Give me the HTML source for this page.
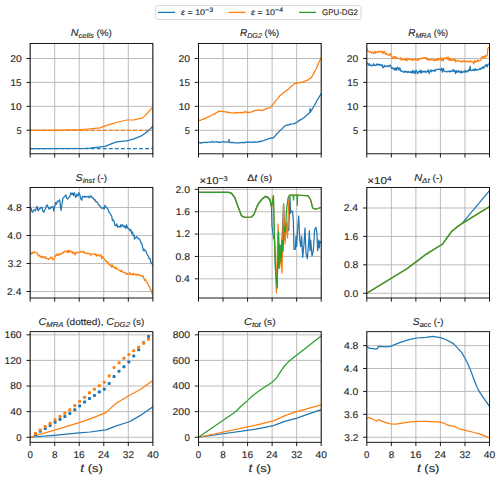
<!DOCTYPE html><html><head><meta charset="utf-8"><style>html,body{margin:0;padding:0;background:#fff;width:500px;height:480px;overflow:hidden}svg text{font-family:"Liberation Sans", sans-serif;fill:#262626;stroke:#262626;stroke-width:0.12;text-rendering:geometricPrecision}</style></head><body><svg width="500" height="480" viewBox="0 0 500 480" style="display:block">
<rect width="500" height="480" fill="#fff"/>
<g>
<line x1="30.15" y1="43.5" x2="30.15" y2="153.8" stroke="#b0b0b0" stroke-width="0.85"/>
<line x1="54.69" y1="43.5" x2="54.69" y2="153.8" stroke="#b0b0b0" stroke-width="0.85"/>
<line x1="79.23" y1="43.5" x2="79.23" y2="153.8" stroke="#b0b0b0" stroke-width="0.85"/>
<line x1="103.77" y1="43.5" x2="103.77" y2="153.8" stroke="#b0b0b0" stroke-width="0.85"/>
<line x1="128.31" y1="43.5" x2="128.31" y2="153.8" stroke="#b0b0b0" stroke-width="0.85"/>
<line x1="152.85" y1="43.5" x2="152.85" y2="153.8" stroke="#b0b0b0" stroke-width="0.85"/>
<line x1="30.15" y1="130.25" x2="152.85" y2="130.25" stroke="#b0b0b0" stroke-width="0.85"/>
<line x1="30.15" y1="106.33" x2="152.85" y2="106.33" stroke="#b0b0b0" stroke-width="0.85"/>
<line x1="30.15" y1="82.42" x2="152.85" y2="82.42" stroke="#b0b0b0" stroke-width="0.85"/>
<line x1="30.15" y1="58.5" x2="152.85" y2="58.5" stroke="#b0b0b0" stroke-width="0.85"/>
<svg x="30.15" y="43.5" width="122.7" height="110.3" viewBox="30.15 43.5 122.7 110.3" overflow="hidden">
<line x1="30.15" y1="148.7" x2="153" y2="148.7" stroke="#1f77b4" stroke-width="1.3" stroke-dasharray="3.95,2.1"/>
<line x1="30.15" y1="130.3" x2="153" y2="130.3" stroke="#ff7f0e" stroke-width="1.3" stroke-dasharray="3.95,2.1"/>
<polyline points="30.15,148.6 85,148.4 90,148.2 98,147.2 105,146.3 110,144.3 116.4,141.9 126.8,140.8 134,138.8 141.4,135.9 148.7,130.4 152.85,126.2" fill="none" stroke="#1f77b4" stroke-width="1.25" stroke-linejoin="round" stroke-linecap="butt" />
<polyline points="30.15,130.3 60,130.2 80,129.7 88,129 100,127.8 103,126.6 106,125.6 110,124.3 116.4,122.5 126.8,120 134.1,119.8 142.5,117.9 147,113.5 151.8,108.2 152.85,107.3" fill="none" stroke="#ff7f0e" stroke-width="1.25" stroke-linejoin="round" stroke-linecap="butt" />
</svg>
<rect x="30.15" y="43.5" width="122.7" height="110.3" fill="none" stroke="#000" stroke-width="0.9"/>
<line x1="30.15" y1="153.8" x2="30.15" y2="157.5" stroke="#000" stroke-width="0.9"/>
<line x1="54.69" y1="153.8" x2="54.69" y2="157.5" stroke="#000" stroke-width="0.9"/>
<line x1="79.23" y1="153.8" x2="79.23" y2="157.5" stroke="#000" stroke-width="0.9"/>
<line x1="103.77" y1="153.8" x2="103.77" y2="157.5" stroke="#000" stroke-width="0.9"/>
<line x1="128.31" y1="153.8" x2="128.31" y2="157.5" stroke="#000" stroke-width="0.9"/>
<line x1="152.85" y1="153.8" x2="152.85" y2="157.5" stroke="#000" stroke-width="0.9"/>
<line x1="26.45" y1="130.25" x2="30.15" y2="130.25" stroke="#000" stroke-width="0.9"/>
<line x1="26.45" y1="106.33" x2="30.15" y2="106.33" stroke="#000" stroke-width="0.9"/>
<line x1="26.45" y1="82.42" x2="30.15" y2="82.42" stroke="#000" stroke-width="0.9"/>
<line x1="26.45" y1="58.5" x2="30.15" y2="58.5" stroke="#000" stroke-width="0.9"/>
</g>
<g>
<line x1="198.5" y1="43.5" x2="198.5" y2="153.8" stroke="#b0b0b0" stroke-width="0.85"/>
<line x1="223.04" y1="43.5" x2="223.04" y2="153.8" stroke="#b0b0b0" stroke-width="0.85"/>
<line x1="247.58" y1="43.5" x2="247.58" y2="153.8" stroke="#b0b0b0" stroke-width="0.85"/>
<line x1="272.12" y1="43.5" x2="272.12" y2="153.8" stroke="#b0b0b0" stroke-width="0.85"/>
<line x1="296.66" y1="43.5" x2="296.66" y2="153.8" stroke="#b0b0b0" stroke-width="0.85"/>
<line x1="321.2" y1="43.5" x2="321.2" y2="153.8" stroke="#b0b0b0" stroke-width="0.85"/>
<line x1="198.5" y1="130.25" x2="321.2" y2="130.25" stroke="#b0b0b0" stroke-width="0.85"/>
<line x1="198.5" y1="106.33" x2="321.2" y2="106.33" stroke="#b0b0b0" stroke-width="0.85"/>
<line x1="198.5" y1="82.42" x2="321.2" y2="82.42" stroke="#b0b0b0" stroke-width="0.85"/>
<line x1="198.5" y1="58.5" x2="321.2" y2="58.5" stroke="#b0b0b0" stroke-width="0.85"/>
<svg x="198.5" y="43.5" width="122.7" height="110.3" viewBox="198.5 43.5 122.7 110.3" overflow="hidden">
<polyline points="198.5,142.9 199.52,142.49 200.55,143.14 201.57,142.67 202.59,142.82 203.62,142.27 204.64,142.49 205.66,142.15 206.68,142.72 207.71,142.22 208.73,142.24 209.75,142 210.78,142.31 211.8,142 212.5,141.2 213,142 214.04,142 215.09,142.02 216.13,141.6 217.18,142.14 218.22,141.92 219.27,142.63 220.31,141.95 221.36,142.04 222.4,142 223.45,141.68 224.5,142.05 225.55,141.76 226.6,142.1 227.65,141.94 228.7,142 229,139.3 229.5,142.3 230.52,142.67 231.53,142.32 232.55,142.63 233.57,142.42 234.58,142.92 235.6,142.9 236.59,142.84 237.57,143 238.56,142.71 239.55,143.01 240.54,142.67 241.53,142.69 242.51,142.42 243.5,142.84 244.49,142.4 245.47,142.59 246.46,141.9 247.45,142.4 248.44,142.16 249.43,142.45 250.41,142.17 251.4,142.2 252.32,142.59 253.24,141.91 254.16,142.25 255.08,141.93 256,142.1 256.97,142.29 257.94,141.67 258.91,141.96 259.89,141.1 260.86,141.66 261.83,140.81 262.8,141 263.77,140.63 264.74,140.04 265.71,139.88 266.69,139.38 267.66,139.33 268.63,138.53 269.6,138.3 270.62,138.42 271.65,137.84 272.68,138.15 273.7,137.6 274.73,136.23 275.75,135.45 276.77,133.62 277.8,132.9 278.74,132.01 279.68,130.81 280.61,130.2 281.55,129.19 282.49,128.34 283.43,127.03 284.36,126.62 285.3,125.6 286.36,125.02 287.41,125.18 288.47,124.79 289.53,124.79 290.59,123.76 291.64,124.24 292.7,124 293.73,123.56 294.75,123.52 295.77,122.68 296.8,122.4 297.77,121.9 298.74,120.47 299.71,120.53 300.69,119.57 301.66,119.32 302.63,118.5 303.6,117.9 304.62,117.31 305.63,116.04 306.65,115.16 307.67,114.13 308.68,113.79 309.7,112.4 310.2,108.5 310.6,112 311.56,109.99 312.52,108.92 313.48,106.84 314.44,105.57 315.4,103.33 316.35,102.01 317.31,99.73 318.27,98.73 319.23,96.71 320.19,95.26 321.15,93.5" fill="none" stroke="#1f77b4" stroke-width="1.25" stroke-linejoin="round" stroke-linecap="butt" />
<polyline points="198.5,121.1 199.46,120.08 200.42,120.46 201.38,119.77 202.33,119.51 203.29,118.84 204.25,119.02 205.21,118.13 206.17,118.03 207.12,117.14 208.08,117.24 209.04,116.47 210,116.2 211.01,115.72 212.02,114.85 213.03,114.64 214.04,113.83 215.06,114.12 216.07,112.55 217.08,112.41 218.09,111.56 219.1,111.2 220.02,111.35 220.94,111.3 221.86,111.45 222.78,111.3 223.7,111.6 224.73,111.83 225.77,111.55 226.8,112.51 227.83,111.98 228.87,112.54 229.9,112.66 230.93,112.9 231.97,112.96 233,113.2 234.02,113.23 235.03,112.3 236.05,112.96 237.06,112.72 238.08,112.85 239.09,112.23 240.11,112.79 241.12,112.34 242.14,112.87 243.15,112.16 244.17,112.56 245.18,111.55 246.2,111.9 247.17,112.64 248.15,112.05 249.12,112.39 250.1,112.5 251.05,111.99 252,111.5 253,111.68 254,110.72 255,110.88 256,109.97 257,110.37 258,110.1 259.13,109.8 260.27,110.5 261.4,110.7 262.42,109.99 263.45,110.38 264.48,109.34 265.5,109.37 266.52,108.29 267.55,108.69 268.58,108.03 269.6,107.7 270.6,107.3 271.6,106.3 272.73,104.69 273.87,103.4 275,101.6 275.92,100.48 276.83,99.62 277.75,98.23 278.67,97.45 279.58,96.07 280.5,95.2 281.5,94.55 282.5,93.26 283.5,92.99 284.5,91.8 285.5,91.35 286.5,90.37 287.5,89.8 288.54,89.18 289.57,87.93 290.61,87.27 291.64,85.59 292.68,85.35 293.71,84.33 294.75,83.5 295.79,83.36 296.84,82.89 297.88,83.24 298.93,82.51 299.97,82.53 301.01,82.22 302.06,82.1 303.1,81.8 304.14,81.28 305.18,81.17 306.21,80.52 307.25,80.2 308.29,80.08 309.32,78.65 310.36,78.45 311.4,77.6 312.45,75.53 313.5,73.86 314.55,71.62 315.6,69.8 316.53,68.27 317.45,65.33 318.38,63.84 319.3,61.36 320.22,59.6 321.15,57.5" fill="none" stroke="#ff7f0e" stroke-width="1.25" stroke-linejoin="round" stroke-linecap="butt" />
</svg>
<rect x="198.5" y="43.5" width="122.7" height="110.3" fill="none" stroke="#000" stroke-width="0.9"/>
<line x1="198.5" y1="153.8" x2="198.5" y2="157.5" stroke="#000" stroke-width="0.9"/>
<line x1="223.04" y1="153.8" x2="223.04" y2="157.5" stroke="#000" stroke-width="0.9"/>
<line x1="247.58" y1="153.8" x2="247.58" y2="157.5" stroke="#000" stroke-width="0.9"/>
<line x1="272.12" y1="153.8" x2="272.12" y2="157.5" stroke="#000" stroke-width="0.9"/>
<line x1="296.66" y1="153.8" x2="296.66" y2="157.5" stroke="#000" stroke-width="0.9"/>
<line x1="321.2" y1="153.8" x2="321.2" y2="157.5" stroke="#000" stroke-width="0.9"/>
<line x1="194.8" y1="130.25" x2="198.5" y2="130.25" stroke="#000" stroke-width="0.9"/>
<line x1="194.8" y1="106.33" x2="198.5" y2="106.33" stroke="#000" stroke-width="0.9"/>
<line x1="194.8" y1="82.42" x2="198.5" y2="82.42" stroke="#000" stroke-width="0.9"/>
<line x1="194.8" y1="58.5" x2="198.5" y2="58.5" stroke="#000" stroke-width="0.9"/>
</g>
<g>
<line x1="366.8" y1="43.5" x2="366.8" y2="153.8" stroke="#b0b0b0" stroke-width="0.85"/>
<line x1="391.34" y1="43.5" x2="391.34" y2="153.8" stroke="#b0b0b0" stroke-width="0.85"/>
<line x1="415.88" y1="43.5" x2="415.88" y2="153.8" stroke="#b0b0b0" stroke-width="0.85"/>
<line x1="440.42" y1="43.5" x2="440.42" y2="153.8" stroke="#b0b0b0" stroke-width="0.85"/>
<line x1="464.96" y1="43.5" x2="464.96" y2="153.8" stroke="#b0b0b0" stroke-width="0.85"/>
<line x1="489.5" y1="43.5" x2="489.5" y2="153.8" stroke="#b0b0b0" stroke-width="0.85"/>
<line x1="366.8" y1="130.25" x2="489.5" y2="130.25" stroke="#b0b0b0" stroke-width="0.85"/>
<line x1="366.8" y1="106.33" x2="489.5" y2="106.33" stroke="#b0b0b0" stroke-width="0.85"/>
<line x1="366.8" y1="82.42" x2="489.5" y2="82.42" stroke="#b0b0b0" stroke-width="0.85"/>
<line x1="366.8" y1="58.5" x2="489.5" y2="58.5" stroke="#b0b0b0" stroke-width="0.85"/>
<svg x="366.8" y="43.5" width="122.7" height="110.3" viewBox="366.8 43.5 122.7 110.3" overflow="hidden">
<polyline points="366.8,63.1 367.65,63.45 368.5,65.09 369.35,63.56 370.2,65.73 371.05,65.03 371.9,65.7 372.69,65.81 373.48,63.73 374.27,65.45 375.06,65.14 375.85,65.71 376.64,63.91 377.43,64.82 378.22,64.13 379.01,65.41 379.8,64.4 380.6,64.59 381.4,65.83 382.2,64.76 383,67.84 383.8,67 384.62,65.3 385.45,66.74 386.27,66.13 387.1,66.34 387.93,65.75 388.75,66.78 389.57,65.27 390.4,65.1 391.05,66.96 391.7,68.4 392.52,67.72 393.35,69.16 394.18,68.04 395,70.21 395.82,67.95 396.65,70.38 397.48,67.12 398.3,68.4 399.1,70.05 399.9,67.74 400.7,71.1 401.5,70.74 402.3,71.7 403.09,72.04 403.88,71.41 404.67,72.35 405.46,71 406.25,72.21 407.04,71.53 407.83,72.66 408.62,71.29 409.41,72.28 410.2,72.3 411.02,71.52 411.85,73.11 412.68,70.39 413.5,72.98 414.32,71.07 415.15,73.73 415.98,70.06 416.8,71.7 417.62,73.85 418.45,71.41 419.28,72.12 420.1,70.13 420.93,73.39 421.75,70.62 422.57,72.23 423.4,71.41 424.23,72.14 425.05,70.94 425.88,72.52 426.7,71.4 427.52,71.77 428.35,69.78 429.18,73.58 430,71.4 430.84,69.81 431.67,71.82 432.51,70.31 433.35,70.8 434.18,69.89 435.02,71.57 435.85,69.68 436.69,69.85 437.53,69.23 438.36,69.4 439.2,69 440.02,69.18 440.85,70.47 441.68,68.16 442.5,72.07 443.32,68.29 444.15,71.14 444.98,71.23 445.8,71.7 446.62,71.95 447.45,71.34 448.27,71.57 449.1,71.05 449.93,72.13 450.75,70.77 451.57,71.42 452.4,71 453.22,69.35 454.03,71.68 454.85,70.41 455.66,73.49 456.48,70.8 457.29,72.13 458.11,70.64 458.92,72.07 459.74,71.15 460.55,72.95 461.37,70.93 462.18,72.66 463,72.3 463.81,71.08 464.62,72.24 465.44,70.32 466.25,72 467.06,71.12 467.88,71.71 468.69,69.64 469.5,70.5 470.1,66.4 470.7,70.5 471.51,70.57 472.32,70.21 473.13,70.3 473.94,69.16 474.75,70.7 475.56,68.79 476.37,70.1 477.18,69.65 477.99,70.01 478.8,69.7 479.64,68.52 480.47,69.46 481.31,67.89 482.15,68.53 482.98,66.9 483.82,68.23 484.65,66.01 485.49,65.89 486.33,64.33 487.16,66.95 488,64.4 488.75,63.94 489.5,63.5" fill="none" stroke="#1f77b4" stroke-width="1.25" stroke-linejoin="round" stroke-linecap="butt" />
<polyline points="366.8,48.6 368,51.2 368.87,51.5 369.73,52.29 370.6,51.79 371.47,52.85 372.33,52.03 373.2,53.2 374,53.31 374.8,51.27 375.6,53.22 376.4,52.1 377.2,51.9 378.02,52.5 378.85,51.12 379.68,51.95 380.5,51.55 381.32,52.09 382.15,51.22 382.98,53.65 383.8,51.6 384.57,51.42 385.33,54.24 386.1,53.22 386.87,54.56 387.63,54.14 388.4,55.2 389.4,55.38 390.4,53.2 391.05,54.65 391.7,56.5 392.52,58.51 393.35,56.72 394.18,57.51 395,56.44 395.82,58.58 396.65,57.44 397.48,58.27 398.3,58.5 399.1,58.38 399.9,59.08 400.7,57.63 401.5,60.26 402.3,59.8 403.09,59.04 403.88,59.96 404.67,58.72 405.46,60.32 406.25,58.36 407.04,60.8 407.83,58.66 408.62,59.61 409.41,58.75 410.2,59.5 411.02,60.09 411.85,59.17 412.68,60.26 413.5,59.55 414.32,59.93 415.15,58.52 415.98,60.12 416.8,59.8 417.59,59.39 418.38,60.49 419.17,58.39 419.96,59.15 420.75,58.21 421.54,58.61 422.33,57.88 423.12,58.52 423.91,57.51 424.7,57.8 425.46,58.62 426.21,57.45 426.97,59.83 427.73,58.45 428.49,60.27 429.24,59.17 430,59.8 430.84,60.01 431.67,59.14 432.51,59.96 433.35,59.57 434.18,60.9 435.02,59.57 435.85,60.41 436.69,59.14 437.53,60.45 438.36,58.19 439.2,59.5 440.02,59.74 440.85,57.47 441.68,60.49 442.5,58.78 443.32,61.15 444.15,58.01 444.98,58.71 445.8,58.5 446.62,57.14 447.45,59.15 448.28,57.16 449.1,60.3 449.93,58.11 450.75,60.62 451.57,59.48 452.4,60.36 453.23,59.5 454.05,60.29 454.88,58.59 455.7,62.01 456.52,60.55 457.35,60.88 458.18,60.41 459,61.1 459.82,61.3 460.65,61.01 461.48,62.07 462.3,61.17 463.12,61.71 463.95,60.42 464.77,61.51 465.6,61.37 466.43,61.8 467.25,61.02 468.07,61.77 468.9,61.4 469.72,62.13 470.55,60.7 471.38,62.02 472.2,61.8 472.99,61.65 473.78,63.94 474.57,60.62 475.36,62.05 476.15,61.01 476.94,61.93 477.73,59.87 478.52,60.84 479.31,60.58 480.1,60.5 480.75,60.07 481.4,57.8 482.16,56.54 482.91,57.33 483.67,56.75 484.43,58.32 485.19,55.57 485.94,56.67 486.7,55.4 487.3,55 487.8,48.5 488.65,47.47 489.5,47.8" fill="none" stroke="#ff7f0e" stroke-width="1.25" stroke-linejoin="round" stroke-linecap="butt" />
</svg>
<rect x="366.8" y="43.5" width="122.7" height="110.3" fill="none" stroke="#000" stroke-width="0.9"/>
<line x1="366.8" y1="153.8" x2="366.8" y2="157.5" stroke="#000" stroke-width="0.9"/>
<line x1="391.34" y1="153.8" x2="391.34" y2="157.5" stroke="#000" stroke-width="0.9"/>
<line x1="415.88" y1="153.8" x2="415.88" y2="157.5" stroke="#000" stroke-width="0.9"/>
<line x1="440.42" y1="153.8" x2="440.42" y2="157.5" stroke="#000" stroke-width="0.9"/>
<line x1="464.96" y1="153.8" x2="464.96" y2="157.5" stroke="#000" stroke-width="0.9"/>
<line x1="489.5" y1="153.8" x2="489.5" y2="157.5" stroke="#000" stroke-width="0.9"/>
<line x1="363.1" y1="130.25" x2="366.8" y2="130.25" stroke="#000" stroke-width="0.9"/>
<line x1="363.1" y1="106.33" x2="366.8" y2="106.33" stroke="#000" stroke-width="0.9"/>
<line x1="363.1" y1="82.42" x2="366.8" y2="82.42" stroke="#000" stroke-width="0.9"/>
<line x1="363.1" y1="58.5" x2="366.8" y2="58.5" stroke="#000" stroke-width="0.9"/>
</g>
<g>
<line x1="30.15" y1="187.5" x2="30.15" y2="298" stroke="#b0b0b0" stroke-width="0.85"/>
<line x1="54.69" y1="187.5" x2="54.69" y2="298" stroke="#b0b0b0" stroke-width="0.85"/>
<line x1="79.23" y1="187.5" x2="79.23" y2="298" stroke="#b0b0b0" stroke-width="0.85"/>
<line x1="103.77" y1="187.5" x2="103.77" y2="298" stroke="#b0b0b0" stroke-width="0.85"/>
<line x1="128.31" y1="187.5" x2="128.31" y2="298" stroke="#b0b0b0" stroke-width="0.85"/>
<line x1="152.85" y1="187.5" x2="152.85" y2="298" stroke="#b0b0b0" stroke-width="0.85"/>
<line x1="30.15" y1="291.5" x2="152.85" y2="291.5" stroke="#b0b0b0" stroke-width="0.85"/>
<line x1="30.15" y1="263.5" x2="152.85" y2="263.5" stroke="#b0b0b0" stroke-width="0.85"/>
<line x1="30.15" y1="235.5" x2="152.85" y2="235.5" stroke="#b0b0b0" stroke-width="0.85"/>
<line x1="30.15" y1="207.5" x2="152.85" y2="207.5" stroke="#b0b0b0" stroke-width="0.85"/>
<svg x="30.15" y="187.5" width="122.7" height="110.5" viewBox="30.15 187.5 122.7 110.5" overflow="hidden">
<polyline points="30.15,207.2 31.07,208.35 32,211.8 32.87,212.25 33.73,209.81 34.6,209.8 35.47,210.94 36.33,207.46 37.2,206.5 37.9,210.7 38.6,210.5 39.47,208.33 40.33,208.5 41.2,207.2 42.07,207.61 42.93,211.16 43.8,212.4 44.62,210.11 45.45,208.88 46.27,205.98 47.1,204.8 48.1,207.09 49.1,209.1 49.9,207.35 50.7,208.41 51.5,206.86 52.3,207.08 53.1,206.5 53.7,211.1 54.7,206.4 55.7,202.5 56.5,204.11 57.3,201.4 58.1,201.51 58.9,200.26 59.7,199.9 60.35,205.71 61,210.5 62,203.82 63,197.9 64,197.24 65,195.9 65.87,195.03 66.73,198.12 67.6,199.2 68.47,197.73 69.33,197.26 70.2,195.3 71,192.79 71.8,194.44 72.6,193.07 73.4,195.55 74.2,192.6 74.85,193.53 75.5,197.3 76.33,196.48 77.15,194.3 77.97,196 78.8,192.6 79.8,194.67 80.8,198.6 81.67,200.3 82.53,196.62 83.4,196.6 84.23,197.12 85.05,196.25 85.88,197.09 86.7,196.43 87.53,196.95 88.35,196.25 89.17,197.94 90,196.7 90.83,195.63 91.65,197.53 92.47,197.46 93.3,198.3 94.15,199.87 95,199.53 95.85,201.86 96.7,201.7 97.53,202.35 98.37,204.92 99.2,204.91 100.03,206.42 100.87,206.99 101.7,208.3 102.52,208.01 103.34,207.66 104.16,209.22 104.98,205.31 105.8,206.7 106.63,207.99 107.47,208.05 108.3,210 109.13,212.62 109.97,213.03 110.8,215.02 111.63,215.64 112.47,220.54 113.3,220 114.13,221.39 114.97,225.41 115.8,225.8 116.65,223.92 117.5,227.25 118.35,225.96 119.2,226.7 120.02,227.28 120.84,224.67 121.66,226.42 122.48,224.72 123.3,225.8 124.14,227.16 124.98,225.91 125.82,228.67 126.66,224.87 127.5,227.5 128.34,228.97 129.18,228.63 130.01,230.79 130.85,229.58 131.69,233.59 132.52,231.94 133.36,235.93 134.2,235 134.5,239.2 135.23,237.56 135.97,237.77 136.7,236.7 137.52,237.28 138.35,238.91 139.18,238.69 140,240 140.83,242.49 141.67,243.24 142.5,246.7 143.34,250.62 144.18,249.18 145.02,250.92 145.86,250.78 146.7,253.3 147.53,255.07 148.37,256.04 149.2,258.7 150.03,258.45 150.87,262.65 151.7,263.3 152.85,265" fill="none" stroke="#1f77b4" stroke-width="1.25" stroke-linejoin="round" stroke-linecap="butt" />
<polyline points="30.15,253.2 30.97,252.73 31.79,254.34 32.61,252.32 33.44,252.85 34.26,251.59 35.08,252.6 35.9,252.5 36.8,252.36 37.7,254.94 38.6,255.8 39.47,255.08 40.33,257.09 41.2,256.16 42.07,257.87 42.93,256.62 43.8,256.9 44.6,258.11 45.4,256.68 46.2,258.49 47,258.33 47.8,259.1 48.6,259.61 49.4,258.14 50.2,258.51 51,257.2 51.8,257.2 52.75,259.58 53.7,259.8 54.7,257.12 55.7,255.2 56.46,255.58 57.21,253.71 57.97,255.39 58.73,254.18 59.49,255.04 60.24,253.67 61,253.9 61.8,253.72 62.6,252.57 63.4,252.99 64.2,251.11 65,251.6 65.74,251.84 66.49,251.15 67.23,252.47 67.97,250.26 68.71,252.65 69.46,250.5 70.2,251.2 71,252.09 71.8,251.29 72.6,253.32 73.4,252.1 74.2,253.2 75,254.99 75.8,252.22 76.6,252.91 77.4,252.13 78.2,252.5 78.98,252.68 79.76,251.82 80.54,252.07 81.32,251.03 82.1,251.5 82.9,252.47 83.7,251.36 84.5,253.26 85.3,252.67 86.1,253.2 86.88,253.78 87.66,253.03 88.44,253.6 89.22,253.31 90,253.8 90.8,255.33 91.6,253.92 92.4,254.15 93.2,254.1 94,254.2 94.75,254.54 95.5,253.79 96.25,256.21 97,254.53 97.75,255.64 98.5,254.87 99.25,256.12 100,255.8 100.85,254.3 101.7,258.8 102.55,256.56 103.4,257.8 104.2,259.03 105,259.73 105.8,261.47 106.6,261.13 107.4,262.72 108.2,262.06 109,264.6 109.8,265.21 110.6,264.64 111.4,267.18 112.2,264.86 113,267.06 113.8,266.74 114.6,267.4 115.33,268.73 116.07,267.18 116.8,269.01 117.53,269 118.27,269.91 119,270.2 119.85,270.6 120.7,271.61 121.55,270.13 122.4,271.95 123.25,272.19 124.1,272.81 124.95,272.37 125.8,273.5 126.62,274.35 127.45,273.43 128.28,274.39 129.1,274.1 129.9,272.46 130.7,274.62 131.5,274.08 132.3,274.87 133.1,273.35 133.9,274.81 134.7,274.1 135.5,274.16 136.3,275.26 137.1,274.16 137.9,274.78 138.7,274.43 139.5,275.49 140.3,275.2 141.15,275.53 142,276.92 142.85,275.77 143.7,277.4 144.52,280.35 145.35,279.3 146.18,281.56 147,282.5 147.75,283.46 148.5,285.86 149.25,286.25 150,288.95 150.75,289.44 151.5,291.4 152.18,294.15 152.85,293.5" fill="none" stroke="#ff7f0e" stroke-width="1.25" stroke-linejoin="round" stroke-linecap="butt" />
</svg>
<rect x="30.15" y="187.5" width="122.7" height="110.5" fill="none" stroke="#000" stroke-width="0.9"/>
<line x1="30.15" y1="298" x2="30.15" y2="301.7" stroke="#000" stroke-width="0.9"/>
<line x1="54.69" y1="298" x2="54.69" y2="301.7" stroke="#000" stroke-width="0.9"/>
<line x1="79.23" y1="298" x2="79.23" y2="301.7" stroke="#000" stroke-width="0.9"/>
<line x1="103.77" y1="298" x2="103.77" y2="301.7" stroke="#000" stroke-width="0.9"/>
<line x1="128.31" y1="298" x2="128.31" y2="301.7" stroke="#000" stroke-width="0.9"/>
<line x1="152.85" y1="298" x2="152.85" y2="301.7" stroke="#000" stroke-width="0.9"/>
<line x1="26.45" y1="291.5" x2="30.15" y2="291.5" stroke="#000" stroke-width="0.9"/>
<line x1="26.45" y1="263.5" x2="30.15" y2="263.5" stroke="#000" stroke-width="0.9"/>
<line x1="26.45" y1="235.5" x2="30.15" y2="235.5" stroke="#000" stroke-width="0.9"/>
<line x1="26.45" y1="207.5" x2="30.15" y2="207.5" stroke="#000" stroke-width="0.9"/>
</g>
<g>
<line x1="198.5" y1="187.5" x2="198.5" y2="298" stroke="#b0b0b0" stroke-width="0.85"/>
<line x1="223.04" y1="187.5" x2="223.04" y2="298" stroke="#b0b0b0" stroke-width="0.85"/>
<line x1="247.58" y1="187.5" x2="247.58" y2="298" stroke="#b0b0b0" stroke-width="0.85"/>
<line x1="272.12" y1="187.5" x2="272.12" y2="298" stroke="#b0b0b0" stroke-width="0.85"/>
<line x1="296.66" y1="187.5" x2="296.66" y2="298" stroke="#b0b0b0" stroke-width="0.85"/>
<line x1="321.2" y1="187.5" x2="321.2" y2="298" stroke="#b0b0b0" stroke-width="0.85"/>
<line x1="198.5" y1="278.8" x2="321.2" y2="278.8" stroke="#b0b0b0" stroke-width="0.85"/>
<line x1="198.5" y1="256.45" x2="321.2" y2="256.45" stroke="#b0b0b0" stroke-width="0.85"/>
<line x1="198.5" y1="234.1" x2="321.2" y2="234.1" stroke="#b0b0b0" stroke-width="0.85"/>
<line x1="198.5" y1="211.75" x2="321.2" y2="211.75" stroke="#b0b0b0" stroke-width="0.85"/>
<line x1="198.5" y1="189.4" x2="321.2" y2="189.4" stroke="#b0b0b0" stroke-width="0.85"/>
<svg x="198.5" y="187.5" width="122.7" height="110.5" viewBox="198.5 187.5 122.7 110.5" overflow="hidden">
<polyline points="198.5,192.3 229,192.3 231.6,193.3 234.9,197.9 238.2,207.1 241.5,215.7 244.2,217.3 251.4,217 254.1,214.4 256.7,207.1 259.2,202.5 262,199.25 265.3,196.6 267.8,197.6 269.9,200 271.5,207 272,226.3 273.6,238 274.5,240 275.5,270 277,288 278,255 278.5,232 279,268 280,245 281,262 282,240 283.6,203.8 285,240 286.5,225 288.7,230.7 290,196 290.5,213.3 291.3,210.7 292.7,212 293.3,220 294,249.3 295.3,249.3 296,236 296.7,246.7 297.3,233.3 298.7,216 299.7,240 300.7,246.7 301.6,236 302.7,257.3 304,244 305,228 306,253.3 307.3,258.7 308.7,242.7 309.3,230.7 310,250.7 310.7,240 312,256 313.3,250.7 314.7,229.3 316,227.3 317,233.3 317.6,250.7 318.7,240 319.3,248 320,241.3 321.15,243" fill="none" stroke="#1f77b4" stroke-width="1.25" stroke-linejoin="round" stroke-linecap="butt" />
<polyline points="198.5,192.3 229,192.3 231.6,193.3 234.9,197.9 238.2,207.1 241.5,215.7 244.2,217.3 251.4,217 254.1,214.4 256.7,207.1 259.2,202.5 262,199.25 265.3,196.3 267.8,197.2 269.9,199.25 271.6,207.2 273.25,195.8 274.5,240 275.5,262 276.3,293 277.2,260 278,224 279.5,268 280.5,255 282,273 283.5,204 285,244 286.5,222 287.5,238 288.7,199 290,195 293,195 297,195 308.2,195.8 310.7,200 312.7,208 315.2,209.1 321.15,207.5" fill="none" stroke="#ff7f0e" stroke-width="1.25" stroke-linejoin="round" stroke-linecap="butt" />
<polyline points="198.5,192.3 229,192.3 231.6,193.3 234.9,197.9 238.2,207.1 241.5,215.7 244.2,217.3 251.4,217 254.1,214.4 256.7,207.1 259.2,202.5 262,199.25 265.3,196.3 267.8,197.2 269.9,199.25 271.6,207.2 273.5,195.5 274.5,240 275.5,270 277,288 278,255 278.5,232 279,268 280,245 281,262 282,240 283,252 284,226 285.5,232 286.5,210 288,198 289.5,195 293,195 293.5,200 294,195 297,195 297.3,205.3 297.6,195 308.2,195.8 310.7,200 312.7,208 315.2,209.1 321.15,207.5" fill="none" stroke="#2ca02c" stroke-width="1.25" stroke-linejoin="round" stroke-linecap="butt" />
</svg>
<rect x="198.5" y="187.5" width="122.7" height="110.5" fill="none" stroke="#000" stroke-width="0.9"/>
<line x1="198.5" y1="298" x2="198.5" y2="301.7" stroke="#000" stroke-width="0.9"/>
<line x1="223.04" y1="298" x2="223.04" y2="301.7" stroke="#000" stroke-width="0.9"/>
<line x1="247.58" y1="298" x2="247.58" y2="301.7" stroke="#000" stroke-width="0.9"/>
<line x1="272.12" y1="298" x2="272.12" y2="301.7" stroke="#000" stroke-width="0.9"/>
<line x1="296.66" y1="298" x2="296.66" y2="301.7" stroke="#000" stroke-width="0.9"/>
<line x1="321.2" y1="298" x2="321.2" y2="301.7" stroke="#000" stroke-width="0.9"/>
<line x1="194.8" y1="278.8" x2="198.5" y2="278.8" stroke="#000" stroke-width="0.9"/>
<line x1="194.8" y1="256.45" x2="198.5" y2="256.45" stroke="#000" stroke-width="0.9"/>
<line x1="194.8" y1="234.1" x2="198.5" y2="234.1" stroke="#000" stroke-width="0.9"/>
<line x1="194.8" y1="211.75" x2="198.5" y2="211.75" stroke="#000" stroke-width="0.9"/>
<line x1="194.8" y1="189.4" x2="198.5" y2="189.4" stroke="#000" stroke-width="0.9"/>
</g>
<g>
<line x1="366.8" y1="187.5" x2="366.8" y2="298" stroke="#b0b0b0" stroke-width="0.85"/>
<line x1="391.34" y1="187.5" x2="391.34" y2="298" stroke="#b0b0b0" stroke-width="0.85"/>
<line x1="415.88" y1="187.5" x2="415.88" y2="298" stroke="#b0b0b0" stroke-width="0.85"/>
<line x1="440.42" y1="187.5" x2="440.42" y2="298" stroke="#b0b0b0" stroke-width="0.85"/>
<line x1="464.96" y1="187.5" x2="464.96" y2="298" stroke="#b0b0b0" stroke-width="0.85"/>
<line x1="489.5" y1="187.5" x2="489.5" y2="298" stroke="#b0b0b0" stroke-width="0.85"/>
<line x1="366.8" y1="293.25" x2="489.5" y2="293.25" stroke="#b0b0b0" stroke-width="0.85"/>
<line x1="366.8" y1="264.83" x2="489.5" y2="264.83" stroke="#b0b0b0" stroke-width="0.85"/>
<line x1="366.8" y1="236.42" x2="489.5" y2="236.42" stroke="#b0b0b0" stroke-width="0.85"/>
<line x1="366.8" y1="208" x2="489.5" y2="208" stroke="#b0b0b0" stroke-width="0.85"/>
<svg x="366.8" y="187.5" width="122.7" height="110.5" viewBox="366.8 187.5 122.7 110.5" overflow="hidden">
<polyline points="366.8,293.25 406.9,268.7 426.4,254.1 433.3,249.7 442.7,244 446.25,238.9 451.5,231.6 456.7,227.3 461.9,223.6 489.5,190.6" fill="none" stroke="#1f77b4" stroke-width="1.25" stroke-linejoin="round" stroke-linecap="butt" />
<polyline points="366.8,293.25 406.9,268.7 426.4,254.1 433.3,249.7 442.7,244 446.25,238.9 451.5,231.6 456.7,227.3 461.9,223.6 489.5,206.6" fill="none" stroke="#ff7f0e" stroke-width="1.25" stroke-linejoin="round" stroke-linecap="butt" />
<polyline points="366.8,293.25 406.9,268.7 426.4,254.1 433.3,249.7 442.7,244 446.25,238.9 451.5,231.6 456.7,227.3 461.9,223.6 489.5,206.6" fill="none" stroke="#2ca02c" stroke-width="1.25" stroke-linejoin="round" stroke-linecap="butt" />
</svg>
<rect x="366.8" y="187.5" width="122.7" height="110.5" fill="none" stroke="#000" stroke-width="0.9"/>
<line x1="366.8" y1="298" x2="366.8" y2="301.7" stroke="#000" stroke-width="0.9"/>
<line x1="391.34" y1="298" x2="391.34" y2="301.7" stroke="#000" stroke-width="0.9"/>
<line x1="415.88" y1="298" x2="415.88" y2="301.7" stroke="#000" stroke-width="0.9"/>
<line x1="440.42" y1="298" x2="440.42" y2="301.7" stroke="#000" stroke-width="0.9"/>
<line x1="464.96" y1="298" x2="464.96" y2="301.7" stroke="#000" stroke-width="0.9"/>
<line x1="489.5" y1="298" x2="489.5" y2="301.7" stroke="#000" stroke-width="0.9"/>
<line x1="363.1" y1="293.25" x2="366.8" y2="293.25" stroke="#000" stroke-width="0.9"/>
<line x1="363.1" y1="264.83" x2="366.8" y2="264.83" stroke="#000" stroke-width="0.9"/>
<line x1="363.1" y1="236.42" x2="366.8" y2="236.42" stroke="#000" stroke-width="0.9"/>
<line x1="363.1" y1="208" x2="366.8" y2="208" stroke="#000" stroke-width="0.9"/>
</g>
<g>
<line x1="30.15" y1="331.65" x2="30.15" y2="442.3" stroke="#b0b0b0" stroke-width="0.85"/>
<line x1="54.69" y1="331.65" x2="54.69" y2="442.3" stroke="#b0b0b0" stroke-width="0.85"/>
<line x1="79.23" y1="331.65" x2="79.23" y2="442.3" stroke="#b0b0b0" stroke-width="0.85"/>
<line x1="103.77" y1="331.65" x2="103.77" y2="442.3" stroke="#b0b0b0" stroke-width="0.85"/>
<line x1="128.31" y1="331.65" x2="128.31" y2="442.3" stroke="#b0b0b0" stroke-width="0.85"/>
<line x1="152.85" y1="331.65" x2="152.85" y2="442.3" stroke="#b0b0b0" stroke-width="0.85"/>
<line x1="30.15" y1="437.25" x2="152.85" y2="437.25" stroke="#b0b0b0" stroke-width="0.85"/>
<line x1="30.15" y1="411.64" x2="152.85" y2="411.64" stroke="#b0b0b0" stroke-width="0.85"/>
<line x1="30.15" y1="386.02" x2="152.85" y2="386.02" stroke="#b0b0b0" stroke-width="0.85"/>
<line x1="30.15" y1="360.41" x2="152.85" y2="360.41" stroke="#b0b0b0" stroke-width="0.85"/>
<line x1="30.15" y1="334.8" x2="152.85" y2="334.8" stroke="#b0b0b0" stroke-width="0.85"/>
<svg x="30.15" y="331.65" width="122.7" height="110.65" viewBox="30.15 331.65 122.7 110.65" overflow="hidden">
<polyline points="30.15,437.25 53.6,435.4 79.3,432.8 90,432 106,429.8 116.2,425.8 129.4,421.75 139.6,415.9 152.85,406.8" fill="none" stroke="#1f77b4" stroke-width="1.25" stroke-linejoin="round" stroke-linecap="butt" />
<polyline points="30.15,437.25 53.6,430.3 79.3,422.6 90,418.8 106,412.6 115.5,403.8 127.9,396.2 141,389 152.85,380.5" fill="none" stroke="#ff7f0e" stroke-width="1.25" stroke-linejoin="round" stroke-linecap="butt" />
<rect x="33.87" y="433.10" width="3.0" height="3.0" rx="0.8" fill="#1f77b4"/>
<rect x="38.79" y="429.70" width="3.0" height="3.0" rx="0.8" fill="#1f77b4"/>
<rect x="43.71" y="427.10" width="3.0" height="3.0" rx="0.8" fill="#1f77b4"/>
<rect x="48.63" y="424.00" width="3.0" height="3.0" rx="0.8" fill="#1f77b4"/>
<rect x="53.55" y="420.80" width="3.0" height="3.0" rx="0.8" fill="#1f77b4"/>
<rect x="58.47" y="417.90" width="3.0" height="3.0" rx="0.8" fill="#1f77b4"/>
<rect x="63.39" y="415.00" width="3.0" height="3.0" rx="0.8" fill="#1f77b4"/>
<rect x="68.31" y="412.10" width="3.0" height="3.0" rx="0.8" fill="#1f77b4"/>
<rect x="73.23" y="408.20" width="3.0" height="3.0" rx="0.8" fill="#1f77b4"/>
<rect x="78.15" y="404.40" width="3.0" height="3.0" rx="0.8" fill="#1f77b4"/>
<rect x="83.07" y="400.50" width="3.0" height="3.0" rx="0.8" fill="#1f77b4"/>
<rect x="87.99" y="397.00" width="3.0" height="3.0" rx="0.8" fill="#1f77b4"/>
<rect x="92.91" y="393.90" width="3.0" height="3.0" rx="0.8" fill="#1f77b4"/>
<rect x="97.83" y="390.50" width="3.0" height="3.0" rx="0.8" fill="#1f77b4"/>
<rect x="102.75" y="387.70" width="3.0" height="3.0" rx="0.8" fill="#1f77b4"/>
<rect x="107.67" y="381.90" width="3.0" height="3.0" rx="0.8" fill="#1f77b4"/>
<rect x="112.59" y="375.10" width="3.0" height="3.0" rx="0.8" fill="#1f77b4"/>
<rect x="117.51" y="369.80" width="3.0" height="3.0" rx="0.8" fill="#1f77b4"/>
<rect x="122.43" y="365.30" width="3.0" height="3.0" rx="0.8" fill="#1f77b4"/>
<rect x="127.35" y="360.40" width="3.0" height="3.0" rx="0.8" fill="#1f77b4"/>
<rect x="132.27" y="354.60" width="3.0" height="3.0" rx="0.8" fill="#1f77b4"/>
<rect x="137.19" y="348.25" width="3.0" height="3.0" rx="0.8" fill="#1f77b4"/>
<rect x="142.11" y="341.20" width="3.0" height="3.0" rx="0.8" fill="#1f77b4"/>
<rect x="147.03" y="335.00" width="3.0" height="3.0" rx="0.8" fill="#1f77b4"/>
<rect x="33.87" y="432.00" width="3.0" height="3.0" rx="0.8" fill="#ff7f0e"/>
<rect x="38.79" y="428.40" width="3.0" height="3.0" rx="0.8" fill="#ff7f0e"/>
<rect x="43.71" y="424.90" width="3.0" height="3.0" rx="0.8" fill="#ff7f0e"/>
<rect x="48.63" y="421.70" width="3.0" height="3.0" rx="0.8" fill="#ff7f0e"/>
<rect x="53.55" y="418.20" width="3.0" height="3.0" rx="0.8" fill="#ff7f0e"/>
<rect x="58.47" y="415.00" width="3.0" height="3.0" rx="0.8" fill="#ff7f0e"/>
<rect x="63.39" y="411.70" width="3.0" height="3.0" rx="0.8" fill="#ff7f0e"/>
<rect x="68.31" y="408.20" width="3.0" height="3.0" rx="0.8" fill="#ff7f0e"/>
<rect x="73.23" y="404.10" width="3.0" height="3.0" rx="0.8" fill="#ff7f0e"/>
<rect x="78.15" y="399.90" width="3.0" height="3.0" rx="0.8" fill="#ff7f0e"/>
<rect x="83.07" y="395.70" width="3.0" height="3.0" rx="0.8" fill="#ff7f0e"/>
<rect x="87.99" y="391.30" width="3.0" height="3.0" rx="0.8" fill="#ff7f0e"/>
<rect x="92.91" y="387.70" width="3.0" height="3.0" rx="0.8" fill="#ff7f0e"/>
<rect x="97.83" y="384.20" width="3.0" height="3.0" rx="0.8" fill="#ff7f0e"/>
<rect x="102.75" y="380.80" width="3.0" height="3.0" rx="0.8" fill="#ff7f0e"/>
<rect x="107.67" y="374.40" width="3.0" height="3.0" rx="0.8" fill="#ff7f0e"/>
<rect x="112.59" y="365.90" width="3.0" height="3.0" rx="0.8" fill="#ff7f0e"/>
<rect x="117.51" y="361.20" width="3.0" height="3.0" rx="0.8" fill="#ff7f0e"/>
<rect x="122.43" y="356.70" width="3.0" height="3.0" rx="0.8" fill="#ff7f0e"/>
<rect x="127.35" y="353.10" width="3.0" height="3.0" rx="0.8" fill="#ff7f0e"/>
<rect x="132.27" y="349.30" width="3.0" height="3.0" rx="0.8" fill="#ff7f0e"/>
<rect x="137.19" y="345.80" width="3.0" height="3.0" rx="0.8" fill="#ff7f0e"/>
<rect x="142.11" y="341.80" width="3.0" height="3.0" rx="0.8" fill="#ff7f0e"/>
<rect x="147.03" y="337.80" width="3.0" height="3.0" rx="0.8" fill="#ff7f0e"/>
</svg>
<rect x="30.15" y="331.65" width="122.7" height="110.65" fill="none" stroke="#000" stroke-width="0.9"/>
<line x1="30.15" y1="442.3" x2="30.15" y2="446" stroke="#000" stroke-width="0.9"/>
<line x1="54.69" y1="442.3" x2="54.69" y2="446" stroke="#000" stroke-width="0.9"/>
<line x1="79.23" y1="442.3" x2="79.23" y2="446" stroke="#000" stroke-width="0.9"/>
<line x1="103.77" y1="442.3" x2="103.77" y2="446" stroke="#000" stroke-width="0.9"/>
<line x1="128.31" y1="442.3" x2="128.31" y2="446" stroke="#000" stroke-width="0.9"/>
<line x1="152.85" y1="442.3" x2="152.85" y2="446" stroke="#000" stroke-width="0.9"/>
<line x1="26.45" y1="437.25" x2="30.15" y2="437.25" stroke="#000" stroke-width="0.9"/>
<line x1="26.45" y1="411.64" x2="30.15" y2="411.64" stroke="#000" stroke-width="0.9"/>
<line x1="26.45" y1="386.02" x2="30.15" y2="386.02" stroke="#000" stroke-width="0.9"/>
<line x1="26.45" y1="360.41" x2="30.15" y2="360.41" stroke="#000" stroke-width="0.9"/>
<line x1="26.45" y1="334.8" x2="30.15" y2="334.8" stroke="#000" stroke-width="0.9"/>
</g>
<g>
<line x1="198.5" y1="331.65" x2="198.5" y2="442.3" stroke="#b0b0b0" stroke-width="0.85"/>
<line x1="223.04" y1="331.65" x2="223.04" y2="442.3" stroke="#b0b0b0" stroke-width="0.85"/>
<line x1="247.58" y1="331.65" x2="247.58" y2="442.3" stroke="#b0b0b0" stroke-width="0.85"/>
<line x1="272.12" y1="331.65" x2="272.12" y2="442.3" stroke="#b0b0b0" stroke-width="0.85"/>
<line x1="296.66" y1="331.65" x2="296.66" y2="442.3" stroke="#b0b0b0" stroke-width="0.85"/>
<line x1="321.2" y1="331.65" x2="321.2" y2="442.3" stroke="#b0b0b0" stroke-width="0.85"/>
<line x1="198.5" y1="437.25" x2="321.2" y2="437.25" stroke="#b0b0b0" stroke-width="0.85"/>
<line x1="198.5" y1="411.64" x2="321.2" y2="411.64" stroke="#b0b0b0" stroke-width="0.85"/>
<line x1="198.5" y1="386.02" x2="321.2" y2="386.02" stroke="#b0b0b0" stroke-width="0.85"/>
<line x1="198.5" y1="360.41" x2="321.2" y2="360.41" stroke="#b0b0b0" stroke-width="0.85"/>
<line x1="198.5" y1="334.8" x2="321.2" y2="334.8" stroke="#b0b0b0" stroke-width="0.85"/>
<svg x="198.5" y="331.65" width="122.7" height="110.65" viewBox="198.5 331.65 122.7 110.65" overflow="hidden">
<polyline points="198.5,437.25 256,429.1 273.5,425.6 284,421.6 296.8,418.1 321.15,409.7" fill="none" stroke="#1f77b4" stroke-width="1.25" stroke-linejoin="round" stroke-linecap="butt" />
<polyline points="198.5,437.25 256,425.1 273.5,420.9 286.3,415.1 296.8,411.6 321.15,404.8" fill="none" stroke="#ff7f0e" stroke-width="1.25" stroke-linejoin="round" stroke-linecap="butt" />
<polyline points="198.5,437.25 222.8,420.6 232,414.2 236.2,411.2 241,406.3 247.4,400.6 252,396.3 257.2,392.3 264,387.5 272.6,381.9 276.5,378 279.3,373.6 282,369.3 284.5,366 286.6,363.6 289,361.3 292.5,358.4 296.8,355 321.15,336.1" fill="none" stroke="#2ca02c" stroke-width="1.25" stroke-linejoin="round" stroke-linecap="butt" />
</svg>
<rect x="198.5" y="331.65" width="122.7" height="110.65" fill="none" stroke="#000" stroke-width="0.9"/>
<line x1="198.5" y1="442.3" x2="198.5" y2="446" stroke="#000" stroke-width="0.9"/>
<line x1="223.04" y1="442.3" x2="223.04" y2="446" stroke="#000" stroke-width="0.9"/>
<line x1="247.58" y1="442.3" x2="247.58" y2="446" stroke="#000" stroke-width="0.9"/>
<line x1="272.12" y1="442.3" x2="272.12" y2="446" stroke="#000" stroke-width="0.9"/>
<line x1="296.66" y1="442.3" x2="296.66" y2="446" stroke="#000" stroke-width="0.9"/>
<line x1="321.2" y1="442.3" x2="321.2" y2="446" stroke="#000" stroke-width="0.9"/>
<line x1="194.8" y1="437.25" x2="198.5" y2="437.25" stroke="#000" stroke-width="0.9"/>
<line x1="194.8" y1="411.64" x2="198.5" y2="411.64" stroke="#000" stroke-width="0.9"/>
<line x1="194.8" y1="386.02" x2="198.5" y2="386.02" stroke="#000" stroke-width="0.9"/>
<line x1="194.8" y1="360.41" x2="198.5" y2="360.41" stroke="#000" stroke-width="0.9"/>
<line x1="194.8" y1="334.8" x2="198.5" y2="334.8" stroke="#000" stroke-width="0.9"/>
</g>
<g>
<line x1="366.8" y1="331.65" x2="366.8" y2="442.3" stroke="#b0b0b0" stroke-width="0.85"/>
<line x1="391.34" y1="331.65" x2="391.34" y2="442.3" stroke="#b0b0b0" stroke-width="0.85"/>
<line x1="415.88" y1="331.65" x2="415.88" y2="442.3" stroke="#b0b0b0" stroke-width="0.85"/>
<line x1="440.42" y1="331.65" x2="440.42" y2="442.3" stroke="#b0b0b0" stroke-width="0.85"/>
<line x1="464.96" y1="331.65" x2="464.96" y2="442.3" stroke="#b0b0b0" stroke-width="0.85"/>
<line x1="489.5" y1="331.65" x2="489.5" y2="442.3" stroke="#b0b0b0" stroke-width="0.85"/>
<line x1="366.8" y1="437.25" x2="489.5" y2="437.25" stroke="#b0b0b0" stroke-width="0.85"/>
<line x1="366.8" y1="414.34" x2="489.5" y2="414.34" stroke="#b0b0b0" stroke-width="0.85"/>
<line x1="366.8" y1="391.43" x2="489.5" y2="391.43" stroke="#b0b0b0" stroke-width="0.85"/>
<line x1="366.8" y1="368.51" x2="489.5" y2="368.51" stroke="#b0b0b0" stroke-width="0.85"/>
<line x1="366.8" y1="345.6" x2="489.5" y2="345.6" stroke="#b0b0b0" stroke-width="0.85"/>
<svg x="366.8" y="331.65" width="122.7" height="110.65" viewBox="366.8 331.65 122.7 110.65" overflow="hidden">
<polyline points="366.8,346.6 369.3,348.1 375.9,349.2 377.2,348.9 378.5,346.3 386.4,346.8 390.4,346.3 399.6,342.6 408.9,339.7 416.8,338 426,337.3 432.6,336.3 440.5,337.7 445.8,339.5 453.7,343.9 461.6,352.4 466.9,361.7 470.9,370.9 473.6,378.5 477.25,387.7 480.4,393.4 489.5,406.5" fill="none" stroke="#1f77b4" stroke-width="1.25" stroke-linejoin="round" stroke-linecap="butt" />
<polyline points="366.8,418.8 368.6,417.5 371.9,418.8 376.5,421.2 378.3,419.6 383.8,421.8 390.4,423.8 395.7,424.1 402.3,423.1 410.2,421.8 419.4,421.4 426,421.4 440.5,422.2 444.5,423.5 448.4,425.4 454.4,426.4 459,428.8 465.6,430.4 472.2,432 480.1,434.1 489.5,437.8" fill="none" stroke="#ff7f0e" stroke-width="1.25" stroke-linejoin="round" stroke-linecap="butt" />
</svg>
<rect x="366.8" y="331.65" width="122.7" height="110.65" fill="none" stroke="#000" stroke-width="0.9"/>
<line x1="366.8" y1="442.3" x2="366.8" y2="446" stroke="#000" stroke-width="0.9"/>
<line x1="391.34" y1="442.3" x2="391.34" y2="446" stroke="#000" stroke-width="0.9"/>
<line x1="415.88" y1="442.3" x2="415.88" y2="446" stroke="#000" stroke-width="0.9"/>
<line x1="440.42" y1="442.3" x2="440.42" y2="446" stroke="#000" stroke-width="0.9"/>
<line x1="464.96" y1="442.3" x2="464.96" y2="446" stroke="#000" stroke-width="0.9"/>
<line x1="489.5" y1="442.3" x2="489.5" y2="446" stroke="#000" stroke-width="0.9"/>
<line x1="363.1" y1="437.25" x2="366.8" y2="437.25" stroke="#000" stroke-width="0.9"/>
<line x1="363.1" y1="414.34" x2="366.8" y2="414.34" stroke="#000" stroke-width="0.9"/>
<line x1="363.1" y1="391.43" x2="366.8" y2="391.43" stroke="#000" stroke-width="0.9"/>
<line x1="363.1" y1="368.51" x2="366.8" y2="368.51" stroke="#000" stroke-width="0.9"/>
<line x1="363.1" y1="345.6" x2="366.8" y2="345.6" stroke="#000" stroke-width="0.9"/>
</g>
<rect x="155.4" y="5.6" width="205.6" height="13.8" rx="2" fill="#fff" stroke="#d4d4d4" stroke-width="0.9"/>
<line x1="158" y1="12.4" x2="175" y2="12.4" stroke="#1f77b4" stroke-width="1.3"/>
<line x1="228.4" y1="12.4" x2="245.4" y2="12.4" stroke="#ff7f0e" stroke-width="1.3"/>
<line x1="299" y1="12.4" x2="316" y2="12.4" stroke="#2ca02c" stroke-width="1.3"/>
<text transform="translate(70.68,35.80) scale(1.0667,1)" x="0" y="0" font-size="9.3"><tspan font-style="italic" font-size="10.0">N</tspan><tspan font-style="italic" font-size="7.2" dy="1.9">cells</tspan><tspan dy="-1.9" font-size="9.3"> (%)</tspan></text>
<text transform="translate(239.90,35.80) scale(1.0013,1)" x="0" y="0" font-size="9.3"><tspan font-style="italic" font-size="10.0">R</tspan><tspan font-style="italic" font-size="7.2" dy="1.9">DG2</tspan><tspan dy="-1.9" font-size="9.3"> (%)</tspan></text>
<text transform="translate(408.20,35.80) scale(0.9930,1)" x="0" y="0" font-size="9.3"><tspan font-style="italic" font-size="10.0">R</tspan><tspan font-style="italic" font-size="7.2" dy="1.9">MRA</tspan><tspan dy="-1.9" font-size="9.3"> (%)</tspan></text>
<text transform="translate(75.59,180.70) scale(1.0597,1)" x="0" y="0" font-size="9.3"><tspan font-style="italic" font-size="10.0">S</tspan><tspan font-style="italic" font-size="7.2" dy="1.9">inst</tspan><tspan dy="-1.9" font-size="9.3"> (-)</tspan></text>
<text transform="translate(247.37,180.70) scale(1.1052,1)" x="0" y="0" font-size="9.3">&#916;<tspan font-style="italic" font-size="10.0">t</tspan> (s)</text>
<text transform="translate(414.18,180.70) scale(1.0945,1)" x="0" y="0" font-size="9.3"><tspan font-style="italic" font-size="10.0">N</tspan><tspan font-style="italic" font-size="7.2" dy="1.9">&#916;t</tspan><tspan dy="-1.9" font-size="9.3"> (-)</tspan></text>
<text transform="translate(38.51,324.80) scale(1.0752,1)" x="0" y="0" font-size="9.3"><tspan font-style="italic" font-size="10.0">C</tspan><tspan font-style="italic" font-size="7.2" dy="1.9">MRA</tspan><tspan dy="-1.9" font-size="9.3"> (dotted), <tspan font-style="italic" font-size="10.0">C</tspan></tspan><tspan font-style="italic" font-size="7.2" dy="1.9">DG2</tspan><tspan dy="-1.9" font-size="9.3"> (s)</tspan></text>
<text transform="translate(243.90,324.80) scale(1.1077,1)" x="0" y="0" font-size="9.3"><tspan font-style="italic" font-size="10.0">C</tspan><tspan font-style="italic" font-size="7.2" dy="1.9">tot</tspan><tspan dy="-1.9" font-size="9.3"> (s)</tspan></text>
<text transform="translate(412.79,324.80) scale(1.0286,1)" x="0" y="0" font-size="9.3"><tspan font-style="italic" font-size="10.0">S</tspan><tspan font-style="italic" font-size="7.2" dy="1.9">acc</tspan><tspan dy="-1.9" font-size="9.3"> (-)</tspan></text>
<text transform="translate(199.40,183.60) scale(1.1351,1)" x="0" y="0" font-size="10.0">&#215;10<tspan font-size="7" dy="-2.9">&#8722;3</tspan></text>
<text transform="translate(367.18,183.60) scale(1.1623,1)" x="0" y="0" font-size="10.0">&#215;10<tspan font-size="7" dy="-2.9">4</tspan></text>
<text transform="translate(181.11,15.20) scale(1.0862,1)" x="0" y="0" font-size="8.2"><tspan font-style="italic">&#949;</tspan> = 10<tspan font-size="6.4" dy="-3.5">&#8722;3</tspan></text>
<text transform="translate(251.11,15.20) scale(1.0862,1)" x="0" y="0" font-size="8.2"><tspan font-style="italic">&#949;</tspan> = 10<tspan font-size="6.4" dy="-3.5">&#8722;4</tspan></text>
<text transform="translate(322.09,15.20) scale(0.9616,1)" x="0" y="0" font-size="8.2">GPU-DG2</text>
<text transform="translate(16.45,133.64) scale(0.9491,1)" x="0" y="0" font-size="9.8">5</text>
<text transform="translate(10.36,109.72) scale(1.0321,1)" x="0" y="0" font-size="9.8">10</text>
<text transform="translate(10.57,85.81) scale(1.0120,1)" x="0" y="0" font-size="9.8">15</text>
<text transform="translate(10.14,61.89) scale(1.0537,1)" x="0" y="0" font-size="9.8">20</text>
<text transform="translate(184.80,133.64) scale(0.9491,1)" x="0" y="0" font-size="9.8">5</text>
<text transform="translate(178.71,109.72) scale(1.0321,1)" x="0" y="0" font-size="9.8">10</text>
<text transform="translate(178.92,85.81) scale(1.0120,1)" x="0" y="0" font-size="9.8">15</text>
<text transform="translate(178.49,61.89) scale(1.0537,1)" x="0" y="0" font-size="9.8">20</text>
<text transform="translate(353.10,133.64) scale(0.9491,1)" x="0" y="0" font-size="9.8">5</text>
<text transform="translate(347.01,109.72) scale(1.0321,1)" x="0" y="0" font-size="9.8">10</text>
<text transform="translate(347.22,85.81) scale(1.0120,1)" x="0" y="0" font-size="9.8">15</text>
<text transform="translate(346.79,61.89) scale(1.0537,1)" x="0" y="0" font-size="9.8">20</text>
<text transform="translate(7.09,294.89) scale(1.0553,1)" x="0" y="0" font-size="9.8">2.4</text>
<text transform="translate(7.66,266.89) scale(1.0314,1)" x="0" y="0" font-size="9.8">3.2</text>
<text transform="translate(7.22,238.89) scale(1.0552,1)" x="0" y="0" font-size="9.8">4.0</text>
<text transform="translate(7.24,210.89) scale(1.0640,1)" x="0" y="0" font-size="9.8">4.8</text>
<text transform="translate(175.50,282.19) scale(1.0502,1)" x="0" y="0" font-size="9.8">0.4</text>
<text transform="translate(175.61,259.84) scale(1.0620,1)" x="0" y="0" font-size="9.8">0.8</text>
<text transform="translate(176.08,237.49) scale(1.0266,1)" x="0" y="0" font-size="9.8">1.2</text>
<text transform="translate(175.71,215.14) scale(1.0544,1)" x="0" y="0" font-size="9.8">1.6</text>
<text transform="translate(175.53,192.79) scale(1.0584,1)" x="0" y="0" font-size="9.8">2.0</text>
<text transform="translate(343.90,296.64) scale(1.0532,1)" x="0" y="0" font-size="9.8">0.0</text>
<text transform="translate(343.91,268.22) scale(1.0620,1)" x="0" y="0" font-size="9.8">0.8</text>
<text transform="translate(344.01,239.81) scale(1.0544,1)" x="0" y="0" font-size="9.8">1.6</text>
<text transform="translate(343.74,211.39) scale(1.0553,1)" x="0" y="0" font-size="9.8">2.4</text>
<text transform="translate(16.14,440.64) scale(0.9868,1)" x="0" y="0" font-size="9.8">0</text>
<text transform="translate(10.18,415.03) scale(1.0498,1)" x="0" y="0" font-size="9.8">40</text>
<text transform="translate(10.22,389.41) scale(1.0453,1)" x="0" y="0" font-size="9.8">80</text>
<text transform="translate(4.44,363.80) scale(1.0477,1)" x="0" y="0" font-size="9.8">120</text>
<text transform="translate(4.44,338.19) scale(1.0477,1)" x="0" y="0" font-size="9.8">160</text>
<text transform="translate(27.44,457.90) scale(0.9868,1)" x="0" y="0" font-size="9.8">0</text>
<text transform="translate(51.99,457.90) scale(1.0054,1)" x="0" y="0" font-size="9.8">8</text>
<text transform="translate(73.41,457.90) scale(1.0349,1)" x="0" y="0" font-size="9.8">16</text>
<text transform="translate(97.93,457.90) scale(1.0499,1)" x="0" y="0" font-size="9.8">24</text>
<text transform="translate(122.83,457.90) scale(1.0193,1)" x="0" y="0" font-size="9.8">32</text>
<text transform="translate(147.21,457.90) scale(1.0498,1)" x="0" y="0" font-size="9.8">40</text>
<text transform="translate(80.26,472.40) scale(1.1722,1)" x="0" y="0" font-size="11.0"><tspan font-style="italic" font-size="11.8">t</tspan> (s)</text>
<text transform="translate(184.49,440.64) scale(0.9868,1)" x="0" y="0" font-size="9.8">0</text>
<text transform="translate(172.57,415.03) scale(1.0614,1)" x="0" y="0" font-size="9.8">200</text>
<text transform="translate(172.61,389.41) scale(1.0587,1)" x="0" y="0" font-size="9.8">400</text>
<text transform="translate(172.54,363.80) scale(1.0632,1)" x="0" y="0" font-size="9.8">600</text>
<text transform="translate(172.66,338.19) scale(1.0559,1)" x="0" y="0" font-size="9.8">800</text>
<text transform="translate(195.79,457.90) scale(0.9868,1)" x="0" y="0" font-size="9.8">0</text>
<text transform="translate(220.34,457.90) scale(1.0054,1)" x="0" y="0" font-size="9.8">8</text>
<text transform="translate(241.76,457.90) scale(1.0349,1)" x="0" y="0" font-size="9.8">16</text>
<text transform="translate(266.28,457.90) scale(1.0499,1)" x="0" y="0" font-size="9.8">24</text>
<text transform="translate(291.18,457.90) scale(1.0193,1)" x="0" y="0" font-size="9.8">32</text>
<text transform="translate(315.56,457.90) scale(1.0498,1)" x="0" y="0" font-size="9.8">40</text>
<text transform="translate(248.61,472.40) scale(1.1722,1)" x="0" y="0" font-size="11.0"><tspan font-style="italic" font-size="11.8">t</tspan> (s)</text>
<text transform="translate(344.31,440.64) scale(1.0314,1)" x="0" y="0" font-size="9.8">3.2</text>
<text transform="translate(343.96,417.73) scale(1.0584,1)" x="0" y="0" font-size="9.8">3.6</text>
<text transform="translate(343.87,394.81) scale(1.0552,1)" x="0" y="0" font-size="9.8">4.0</text>
<text transform="translate(343.78,371.90) scale(1.0522,1)" x="0" y="0" font-size="9.8">4.4</text>
<text transform="translate(343.89,348.99) scale(1.0640,1)" x="0" y="0" font-size="9.8">4.8</text>
<text transform="translate(364.09,457.90) scale(0.9868,1)" x="0" y="0" font-size="9.8">0</text>
<text transform="translate(388.64,457.90) scale(1.0054,1)" x="0" y="0" font-size="9.8">8</text>
<text transform="translate(410.06,457.90) scale(1.0349,1)" x="0" y="0" font-size="9.8">16</text>
<text transform="translate(434.58,457.90) scale(1.0499,1)" x="0" y="0" font-size="9.8">24</text>
<text transform="translate(459.48,457.90) scale(1.0193,1)" x="0" y="0" font-size="9.8">32</text>
<text transform="translate(483.86,457.90) scale(1.0498,1)" x="0" y="0" font-size="9.8">40</text>
<text transform="translate(416.91,472.40) scale(1.1722,1)" x="0" y="0" font-size="11.0"><tspan font-style="italic" font-size="11.8">t</tspan> (s)</text>
</svg></body></html>
